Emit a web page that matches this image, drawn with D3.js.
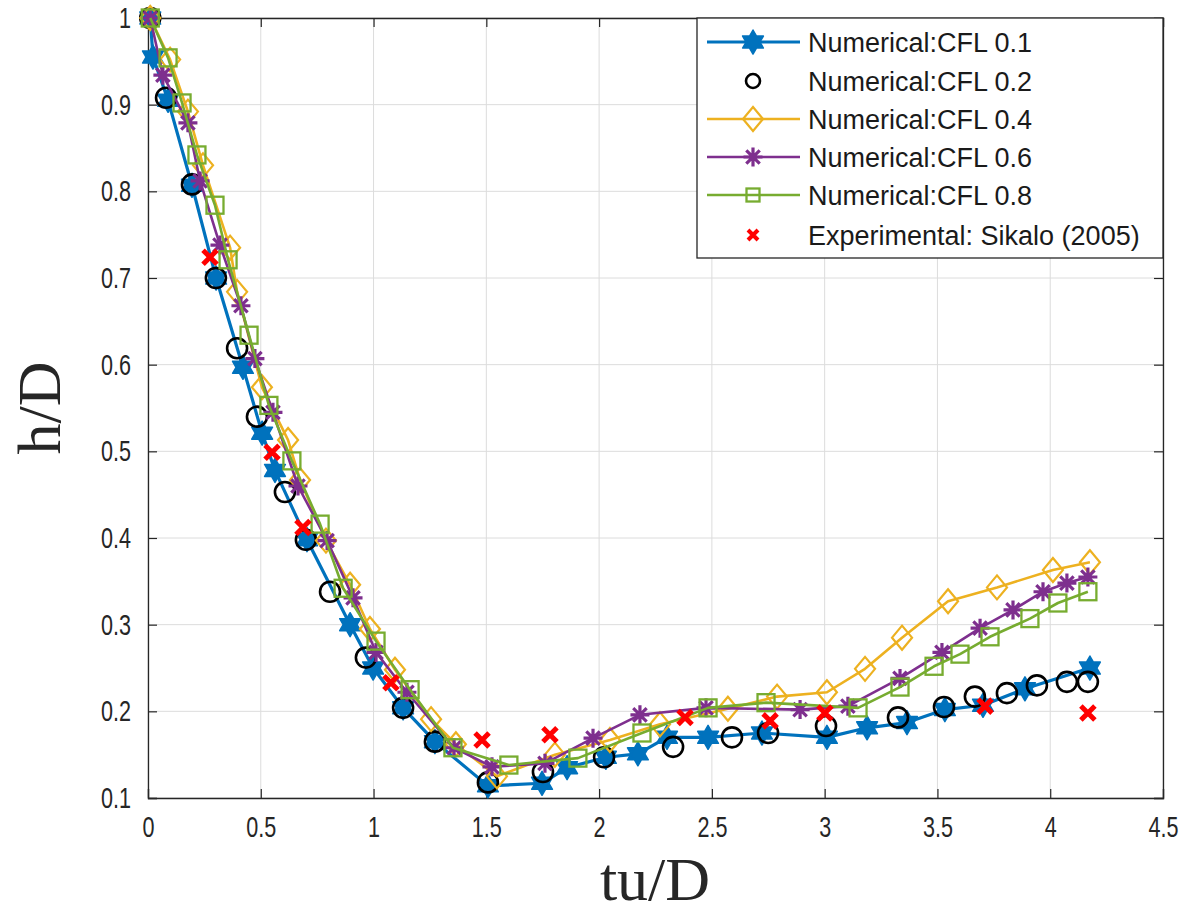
<!DOCTYPE html>
<html><head><meta charset="utf-8">
<script src="https://cdn.jsdelivr.net/npm/d3@7"></script>
<style>body{margin:0;background:#fff}svg{display:block}</style>
</head><body>
<svg id="c" width="1193" height="920"></svg>
<script>
// ---- data ----
const xTicks = [0,0.5,1,1.5,2,2.5,3,3.5,4,4.5];
const yTicks = [0.1,0.2,0.3,0.4,0.5,0.6,0.7,0.8,0.9,1];
const seriesNames = ["Numerical:CFL 0.1","Numerical:CFL 0.2","Numerical:CFL 0.4","Numerical:CFL 0.6","Numerical:CFL 0.8","Experimental: Sikalo (2005)"];

const cfl01 = [[0.01,1.0],[0.022,0.955],[0.089,0.905],[0.195,0.807],[0.302,0.700],[0.421,0.597],[0.506,0.521],[0.563,0.478],[0.705,0.398],[0.896,0.300],[0.998,0.250],[1.131,0.204],[1.272,0.165],[1.507,0.114],[1.747,0.117],[1.858,0.135],[2.030,0.147],[2.172,0.151],[2.301,0.170],[2.483,0.170],[2.722,0.175],[3.010,0.170],[3.188,0.181],[3.365,0.187],[3.533,0.202],[3.702,0.207],[3.888,0.226],[4.176,0.250]];
const cfl02 = [[0.01,1.0],[0.080,0.908],[0.195,0.808],[0.301,0.700],[0.395,0.619],[0.483,0.540],[0.607,0.453],[0.700,0.398],[0.807,0.338],[0.966,0.262],[1.131,0.204],[1.272,0.165],[1.507,0.118],[1.751,0.130],[2.022,0.147],[2.328,0.159],[2.589,0.170],[2.749,0.175],[3.006,0.183],[3.325,0.193],[3.529,0.205],[3.666,0.217],[3.808,0.221],[3.941,0.230],[4.074,0.234],[4.167,0.234]];
const cfl04 = [[0.01,1.0],[0.098,0.952],[0.177,0.892],[0.244,0.830],[0.364,0.735],[0.395,0.684],[0.505,0.574],[0.621,0.513],[0.674,0.467],[0.789,0.397],[0.896,0.346],[0.984,0.295],[1.095,0.248],[1.255,0.191],[1.365,0.162],[1.547,0.125],[1.804,0.150],[2.048,0.167],[2.270,0.185],[2.571,0.203],[2.789,0.217],[3.010,0.222],[3.179,0.249],[3.343,0.285],[3.547,0.327],[3.764,0.343],[4.012,0.363],[4.176,0.372]];
const cfl06 = [[0.01,1.0],[0.066,0.934],[0.177,0.879],[0.231,0.812],[0.319,0.738],[0.412,0.668],[0.474,0.607],[0.554,0.545],[0.665,0.460],[0.794,0.397],[0.909,0.331],[1.011,0.268],[1.148,0.222],[1.357,0.158],[1.525,0.136],[1.760,0.140],[1.973,0.169],[2.181,0.196],[2.474,0.204],[2.891,0.202],[3.103,0.206],[3.334,0.238],[3.520,0.268],[3.689,0.296],[3.835,0.317],[3.968,0.338],[4.074,0.348],[4.167,0.355]];
const cfl08 = [[0.01,1.0],[0.089,0.954],[0.151,0.902],[0.217,0.842],[0.297,0.784],[0.355,0.721],[0.448,0.634],[0.536,0.553],[0.638,0.489],[0.763,0.416],[0.865,0.342],[1.011,0.281],[1.162,0.225],[1.352,0.158],[1.600,0.138],[1.906,0.146],[2.190,0.175],[2.483,0.204],[2.740,0.210],[3.148,0.204],[3.334,0.228],[3.485,0.252],[3.600,0.266],[3.733,0.286],[3.910,0.307],[4.034,0.325],[4.167,0.338]];
const experiment = [[0.275,0.724],[0.550,0.499],[0.687,0.412],[1.077,0.233],[1.481,0.167],[1.782,0.173],[2.381,0.193],[2.758,0.189],[3.001,0.198],[3.711,0.206],[4.167,0.198]];

// ---- layout ----
const L=148,R=1163,T=18,B=798;
const svg=d3.select("#c");
const x=d3.scaleLinear().domain([0,4.5]).range([L,R]);
const y=d3.scaleLinear().domain([0.1,1]).range([B,T]);
const FONT="'Liberation Sans', Arial, sans-serif";
const SERIF="'Liberation Serif','DejaVu Serif',serif";
const SX=0.72;

// grid
const g=svg.append("g");
g.selectAll(".gx").data(xTicks).join("line").attr("x1",d=>x(d)).attr("x2",d=>x(d)).attr("y1",T).attr("y2",B).attr("stroke","#dcdcdc").attr("stroke-width",1);
g.selectAll(".gy").data(yTicks).join("line").attr("y1",d=>y(d)).attr("y2",d=>y(d)).attr("x1",L).attr("x2",R).attr("stroke","#dcdcdc").attr("stroke-width",1);

// axes
const ax=svg.append("g").attr("transform",`translate(0,${B})`).call(d3.axisBottom(x).tickValues(xTicks).tickFormat(d3.format("")).tickSize(-9).tickPadding(18));
const ay=svg.append("g").attr("transform",`translate(${L},0)`).call(d3.axisLeft(y).tickValues(yTicks).tickFormat(d3.format("")).tickSize(-9).tickPadding(17));
const at=svg.append("g").attr("transform",`translate(0,${T})`).call(d3.axisTop(x).tickValues(xTicks).tickFormat("").tickSize(-9));
const ar=svg.append("g").attr("transform",`translate(${R},0)`).call(d3.axisRight(y).tickValues(yTicks).tickFormat("").tickSize(-9));
[ax,ay,at,ar].forEach(a=>{a.select(".domain").attr("stroke","#262626").attr("stroke-width",1.3);a.selectAll(".tick line").attr("stroke","#262626").attr("stroke-width",1.2);a.selectAll("text").attr("font-family",FONT).attr("font-size",30).attr("fill","#262626");});
ax.selectAll("text").attr("dy","0.71em").attr("transform",`scale(${SX},1)`);
ay.selectAll("text").attr("x",-17/SX).attr("transform",`scale(${SX},1)`);

// labels
svg.append("text").attr("x",655).attr("y",900).attr("text-anchor","middle").attr("font-family",SERIF).attr("font-size",62).attr("fill","#262626").text("tu/D");
svg.append("text").attr("transform","translate(60,408) rotate(-90)").attr("text-anchor","middle").attr("font-family",SERIF).attr("font-size",62).attr("fill","#262626").text("h/D");

// marker shapes
function hexagram(r){const p1=[],p2=[];for(let i=0;i<3;i++){const a1=-Math.PI/2+i*2*Math.PI/3,a2=Math.PI/2+i*2*Math.PI/3;p1.push([r*Math.cos(a1),r*Math.sin(a1)]);p2.push([r*Math.cos(a2),r*Math.sin(a2)]);}
 return "M"+p1.join("L")+"Z M"+p2.join("L")+"Z";}
function drawMarker(sel,type,color){
  if(type==="hex"){sel.append("path").attr("d",hexagram(12)).attr("fill",color).attr("stroke",color).attr("stroke-width",1.5).attr("stroke-linejoin","round");}
  else if(type==="circle"){sel.append("circle").attr("r",10).attr("fill","none").attr("stroke",color).attr("stroke-width",2.6);}
  else if(type==="diamond"){sel.append("path").attr("d","M0,-12L10,0L0,12L-10,0Z").attr("fill","none").attr("stroke",color).attr("stroke-width",2.2);}
  else if(type==="square"){sel.append("rect").attr("x",-8.5).attr("y",-8.5).attr("width",17).attr("height",17).attr("fill","none").attr("stroke",color).attr("stroke-width",2.3);}
  else if(type==="aster"){const r=9.5,d=r*0.707;sel.append("path").attr("d",`M${-r},0L${r},0M0,${-r}L0,${r}M${-d},${-d}L${d},${d}M${-d},${d}L${d},${-d}`).attr("stroke",color).attr("stroke-width",3.2);}
  else if(type==="x"){const r=7;sel.append("path").attr("d",`M${-r},${-r}L${r},${r}M${-r},${r}L${r},${-r}`).attr("stroke",color).attr("stroke-width",5);}
}

const series=[
 {name:seriesNames[0],data:cfl01,color:"#0072BD",marker:"hex",line:true,lw:3.2},
 {name:seriesNames[1],data:cfl02,color:"#000000",marker:"circle",line:false,lw:0},
 {name:seriesNames[2],data:cfl04,color:"#EDB120",marker:"diamond",line:true,lw:2.6},
 {name:seriesNames[3],data:cfl06,color:"#7E2F8E",marker:"aster",line:true,lw:2.6},
 {name:seriesNames[4],data:cfl08,color:"#77AC30",marker:"square",line:true,lw:2.6},
 {name:seriesNames[5],data:experiment,color:"#FF0000",marker:"x",line:false,lw:0}
];
const plot=svg.append("g");
const lineGen=d3.line().x(d=>x(d[0])).y(d=>y(d[1]));
series.forEach(s=>{
  const sg=plot.append("g");
  if(s.line) sg.append("path").attr("d",lineGen(s.data)).attr("fill","none").attr("stroke",s.color).attr("stroke-width",s.lw).attr("stroke-linejoin","round");
  sg.selectAll(".m").data(s.data).join("g").attr("transform",d=>`translate(${x(d[0])},${y(d[1])})`).each(function(){drawMarker(d3.select(this),s.marker,s.color);});
});

// legend
const lg=svg.append("g");
lg.append("rect").attr("x",697).attr("y",18).attr("width",466).attr("height",240).attr("fill","#fff").attr("stroke","#262626").attr("stroke-width",1.3);
const rowY=[42,81,119,157,195,235];
series.forEach((s,i)=>{
  const r=lg.append("g").attr("transform",`translate(0,${rowY[i]})`);
  if(s.line) r.append("line").attr("x1",707).attr("x2",800).attr("y1",0).attr("y2",0).attr("stroke",s.color).attr("stroke-width",s.lw);
  const m=r.append("g").attr("transform","translate(753,0)");drawMarker(m,s.marker,s.color);
  if(s.marker==="circle"){m.select("circle").attr("r",7);}
  if(s.marker==="square"){m.select("rect").attr("x",-6.5).attr("y",-6.5).attr("width",13).attr("height",13);}
  if(s.marker==="x"){m.select("path").attr("stroke-width",4).attr("d","M-5,-5L5,5M-5,5L5,-5");}
  r.append("text").attr("x",808).attr("y",0).attr("dy","0.36em").attr("font-family",FONT).attr("font-size",27).attr("fill","#1a1a1a").text(s.name);
});
</script>
</body></html>
